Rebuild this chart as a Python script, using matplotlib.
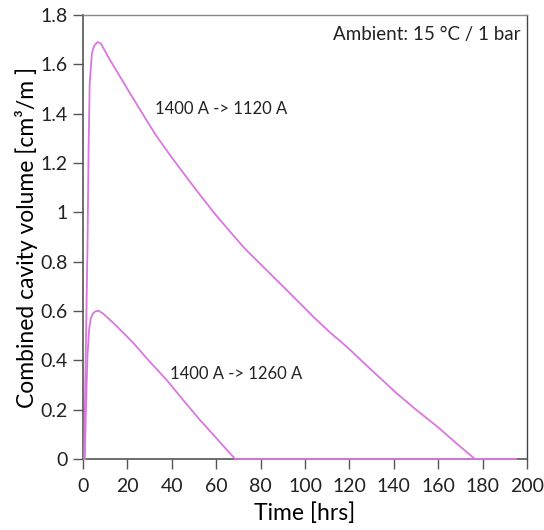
import matplotlib
matplotlib.use("Agg")
import matplotlib.pyplot as plt
from matplotlib.ticker import FuncFormatter

plt.rcParams['font.family'] = ['Lato', 'DejaVu Sans']

# Series 1: 1400 A -> 1120 A
t1 = [0.5, 1.0, 1.5, 2.0, 2.5, 3.0, 4.0, 5.0, 6.5, 8, 12, 20, 27.2, 33, 39.2, 46, 52.5, 59, 66.2, 73,
      80.5, 88.7, 95.5, 103.7, 111, 118.8, 130, 141.3, 150, 160, 168, 176.5, 195]
v1 = [0, 0.30, 0.58, 0.85, 1.25, 1.52, 1.645, 1.675, 1.69, 1.685, 1.62, 1.50, 1.394, 1.31, 1.232, 1.15,
      1.073, 0.998, 0.922, 0.852, 0.785, 0.712, 0.651, 0.577, 0.515, 0.455, 0.36, 0.266, 0.20, 0.128, 0.065, 0, 0]

# Series 2: 1400 A -> 1260 A
t2 = [0.8, 1.3, 2, 2.8, 3.5, 4.5, 5.5, 7, 9, 15, 22.7, 30, 37.7, 45, 52.7, 60, 68.5, 195]
v2 = [0, 0.2, 0.42, 0.53, 0.57, 0.59, 0.598, 0.601, 0.59, 0.54, 0.47, 0.395, 0.32, 0.24, 0.158, 0.085, 0, 0]

labels = ["1400 A -> 1120 A", "1400 A -> 1260 A"]
xticks = [0, 20, 40, 60, 80, 100, 120, 140, 160, 180, 200]
yticks = [0, 0.2, 0.4, 0.6, 0.8, 1.0, 1.2, 1.4, 1.6, 1.8]

color = '#d877de'

fig = plt.figure(figsize=(5.44, 5.30), dpi=100)
ax = fig.add_axes([0.1526, 0.134, 0.8162, 0.8377])

ax.plot(t1, v1, color=color, lw=1.3, clip_on=False, zorder=3)
ax.plot(t2, v2, color=color, lw=1.3, clip_on=False, zorder=3)

ax.set_xlim(0, 200)
ax.set_ylim(0, 1.8)
ax.set_xticks(xticks)
ax.set_yticks(yticks)
ax.yaxis.set_major_formatter(FuncFormatter(lambda v, p: f"{v:g}"))

for s in ['left', 'bottom']:
    ax.spines[s].set_color('#555555')
    ax.spines[s].set_linewidth(1.2)
for s in ['top', 'right']:
    ax.spines[s].set_color('#888888')
    ax.spines[s].set_linewidth(1.0)
ax.spines['right'].set_color('#444444')

ax.tick_params(axis='both', direction='out', length=7, width=1, color='#555555',
               labelsize=14, pad=4, labelcolor='#222222')
ax.tick_params(axis='x', pad=7)

ax.set_xlabel("Time [hrs]", fontsize=16.5, labelpad=5)
ax.set_ylabel("Combined cavity volume [cm³/m ]", fontsize=16.5, labelpad=2)

ax.text(62, 1.42, labels[0], fontsize=12, ha='center', va='center', color='#222222')
ax.text(69, 0.345, labels[1], fontsize=12, ha='center', va='center', color='#222222')
ax.text(0.985, 0.975, "Ambient: 15 °C / 1 bar", transform=ax.transAxes,
        fontsize=13.5, ha='right', va='top', color='#222222')

fig.savefig("out.png", dpi=100, facecolor='white')
